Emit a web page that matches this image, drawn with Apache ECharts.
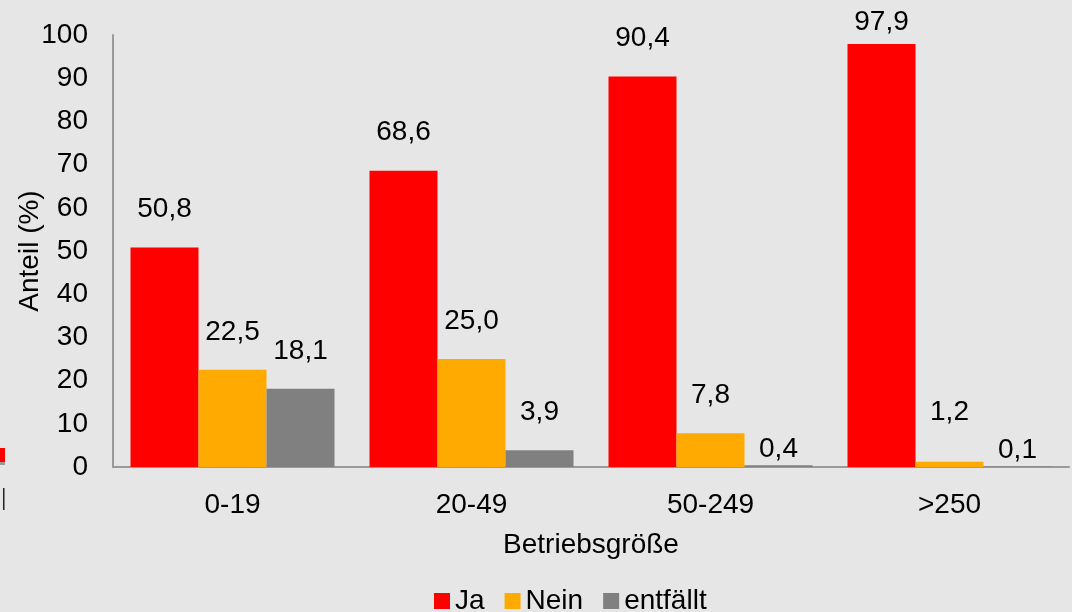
<!DOCTYPE html>
<html>
<head>
<meta charset="utf-8">
<script src="https://cdn.jsdelivr.net/npm/echarts@6/dist/echarts.min.js"></script>
<style>
  html, body { margin: 0; padding: 0; background: #e6e6e6; }
  #chart { width: 1072px; height: 612px; }
</style>
</head>
<body>
<div id="chart"></div>
<script>
// Daten
const categories = ["0-19", "20-49", "50-249", ">250"];
const ja = [50.8, 68.6, 90.4, 97.9];
const nein = [22.5, 25.0, 7.8, 1.2];
const entfaellt = [18.1, 3.9, 0.4, 0.1];
const yTicks = [0, 10, 20, 30, 40, 50, 60, 70, 80, 90, 100];

const chart = echarts.init(document.getElementById("chart"));

const font = "'Liberation Sans', Arial, sans-serif";
const txt = { color: "#000", fontFamily: font, fontSize: 28 };

// Beschriftung über den Balken, Sonderfälle wie im Original
function mkData(values) {
    return values.map(v => {
        let dist = 24;
        if (v > 95) dist = 8;
        else if (v < 1) dist = 2;
        else if (v < 2) dist = 36;
        return { value: v, label: { distance: dist } };
    });
}

function mkSeries(name, values, color) {
    return {
        name: name,
        type: "bar",
        barWidth: 68,
        barGap: "0%",
        barCategoryGap: "14.6%",
        itemStyle: { color: color },
        label: {
            show: true,
            position: "top",
            ...txt,
            formatter: p => p.value.toFixed(1).replace(".", ",")
        },
        data: mkData(values)
    };
}

chart.setOption({
    backgroundColor: "#e6e6e6",
    animation: false,
    grid: { left: 113, right: 3, top: 35, bottom: 145, outerBoundsMode: "none", containLabel: false },
    legend: {
        data: ["Ja", "Nein", "entfällt"],
        left: 429,
        top: 582,
        itemWidth: 16,
        itemHeight: 16,
        itemGap: 20,
        icon: "rect",
        textStyle: txt
    },
    xAxis: {
        type: "category",
        data: categories,
        name: "Betriebsgröße",
        nameLocation: "middle",
        nameGap: 64,
        nameMoveOverlap: false,
        nameTextStyle: txt,
        axisLine: { lineStyle: { color: "#9a9a9a", width: 2 } },
        axisTick: { show: false },
        axisLabel: { ...txt, margin: 24 }
    },
    yAxis: {
        type: "value",
        min: yTicks[0],
        max: yTicks[yTicks.length - 1],
        interval: 10,
        name: "Anteil (%)",
        nameLocation: "middle",
        nameGap: 69,
        nameMoveOverlap: false,
        nameTextStyle: txt,
        axisLine: { show: true, lineStyle: { color: "#9a9a9a", width: 2 } },
        axisTick: { show: false },
        splitLine: { show: false },
        axisLabel: { ...txt, margin: 25 }
    },
    series: [
        mkSeries("Ja", ja, "#ff0000"),
        mkSeries("Nein", nein, "#ffaa00"),
        mkSeries("entfällt", entfaellt, "#808080")
    ],
    // Reste eines abgeschnittenen Elements am linken Rand
    graphic: [
        { type: "rect", shape: { x: 0, y: 448, width: 5, height: 14 }, style: { fill: "#ff0000" } },
        { type: "rect", shape: { x: 0, y: 462, width: 5, height: 3 }, style: { fill: "#9a9a9a" } },
        { type: "rect", shape: { x: 3, y: 488, width: 1.5, height: 22 }, style: { fill: "#222" } }
    ]
});

window.addEventListener("resize", () => chart.resize());
</script>
</body>
</html>
